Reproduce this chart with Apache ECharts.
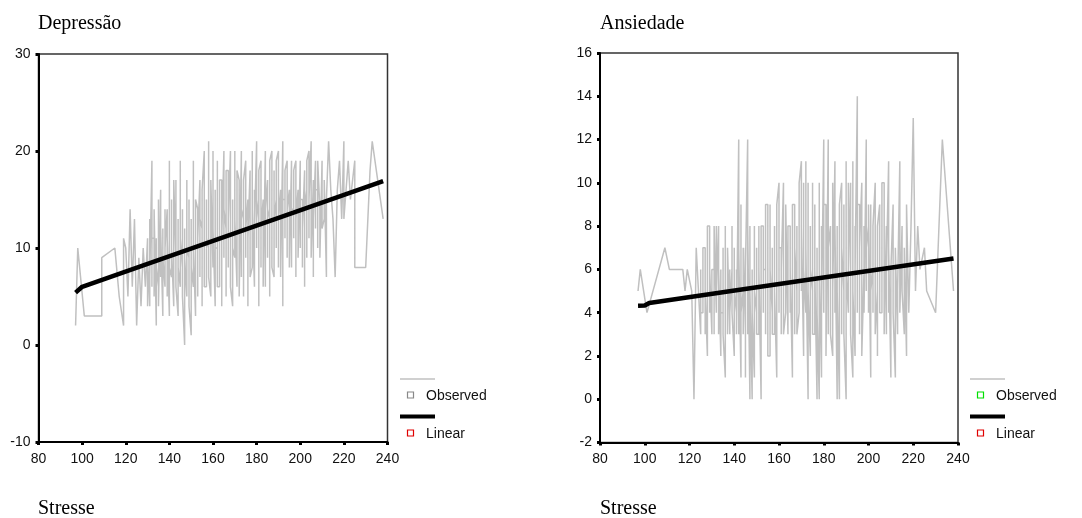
<!DOCTYPE html>
<html>
<head>
<meta charset="utf-8">
<script src="https://cdn.jsdelivr.net/npm/echarts@6/dist/echarts.min.js"></script>
<style>
html,body{margin:0;padding:0;background:#fff;}
#chart{width:1082px;height:518px;}
</style>
</head>
<body>
<div id="chart"></div>
<script>
// ---- Data ----
const xTicks = [80, 100, 120, 140, 160, 180, 200, 220, 240];
const depTicks = [-10, 0, 10, 20, 30];
const anxTicks = [-2, 0, 2, 4, 6, 8, 10, 12, 14, 16];

// Depressão vs Stresse, observed: [Stresse, Depressão], sorted by Stresse
const depObserved = [
[97,2],[98,10],[101,3],[109,3],[109,9],[115,10],[117,5],[119,2],[119,11],[120,10],[121,5],[122,14],[123,6],[124,13],[125,2],[126,9],[127,4],[128,10],[129,6],
[130,11],[130,4],[130,9],[131,4],[131,13],[131,7],[132,19],[132,6],[132,11],[133,11],[133,5],[133,14],[134,2],[134,11],[134,6],
[135,8],[135,15],[135,4],[136,16],[136,7],[136,12],[137,3],[137,12],[137,9],[138,6],[138,14],[138,10],[139,14],[139,5],[139,11],
[140,3],[140,19],[140,8],[141,7],[141,15],[141,10],[142,4],[142,12],[142,17],[143,9],[143,17],[143,6],[144,3],[144,13],[144,8],
[145,6],[145,19],[145,11],[146,8],[146,14],[146,5],[147,0],[147,12],[147,9],[148,5],[148,17],[148,10],[149,9],[149,15],[149,4],
[150,1],[150,13],[150,8],[151,6],[151,19],[151,10],[152,3],[152,10],[152,15],[153,14],[153,5],[153,11],[154,17],[154,7],[154,13],
[155,12],[155,4],[155,16],[156,20],[156,9],[156,6],[157,6],[157,15],[157,10],[158,11],[158,21],[158,7],[159,5],[159,14],[159,17],
[160,8],[160,20],[160,12],[161,4],[161,16],[161,10],[162,10],[162,19],[162,6],[163,6],[163,13],[163,17],[164,17],[164,4],[164,11],
[165,20],[165,9],[165,14],[166,12],[166,5],[166,18],[167,18],[167,8],[167,13],[168,20],[168,11],[168,6],[169,4],[169,15],[169,10],
[170,9],[170,20],[170,13],[171,6],[171,14],[171,18],[172,17],[172,10],[172,5],[173,20],[173,7],[173,14],[174,13],[174,5],[174,17],
[175,19],[175,9],[175,12],[176,15],[176,4],[176,11],[177,18],[177,11],[177,7],[178,8],[178,20],[178,14],[179,6],[179,16],[179,12],
[180,21],[180,10],[180,15],[181,13],[181,4],[181,18],[182,19],[182,8],[182,12],[183,15],[183,11],[183,6],[184,20],[184,6],[184,14],
[185,17],[185,9],[185,13],[186,14],[186,5],[186,19],[187,20],[187,12],[187,8],[188,7],[188,18],[188,13],[189,15],[189,10],[189,19],
[190,20],[190,8],[190,13],[191,16],[191,12],[191,7],[192,21],[192,4],[192,15],[193,15],[193,11],[193,18],[194,19],[194,9],[194,14],
[195,16],[195,13],[195,8],[196,19],[196,8],[196,14],[197,14],[197,11],[197,18],[198,19],[198,7],[198,13],[199,16],[199,12],[199,9],
[200,19],[200,10],[200,15],[201,15],[201,8],[201,12],[202,18],[202,6],[202,14],[203,16],[203,9],[203,19],[204,20],[204,11],[204,15],
[205,21],[205,14],[205,9],[206,17],[206,7],[206,13],[207,19],[207,12],[207,16],[208,16],[208,10],[208,19],[209,14],[209,9],
[210,19],[210,12],[211,13],[211,17],[212,7],[212,15],
[213,21],[214,16],[215,13],[216,7],[217,16],[218,19],[219,13],[220,21],[220,13],[221,16],[222,19],[223,15],[225,19],[225,8],[230,8],[232,18],[233,21],[238,13]
];
// Linear fit, Depressão
const depFit = [[97, 5.4], [100, 6.0], [238, 16.9]];

// Ansiedade vs Stresse, observed: [Stresse, Ansiedade], sorted by Stresse
const anxObserved = [
[97,5],[98,6],[101,4],[109,7],[111,6],[115,6],[117,6],[118,5],[119,6],[121,5],[122,0],[123,7],[124,5],
[125,3],[125,6],[125,4],[126,4],[126,7],[127,7],[127,3],[127,5],[128,2],[128,5],[128,8],[129,8],[129,4],[129,6],[130,3],[130,6],
[131,6],[131,3],[131,8],[132,4],[132,8],[132,5],[133,8],[133,3],[133,6],[134,2],[134,6],[134,4],[135,4],[135,7],[135,3],
[136,1],[136,8],[136,5],[137,5],[137,3],[137,7],[138,3],[138,6],[138,4],[139,6],[139,8],[139,4],[140,2],[140,7],[140,5],
[141,4],[141,6],[141,3],[142,12],[142,3],[142,7],[143,1],[143,9],[143,4],[144,5],[144,7],[144,3],[145,7],[145,1],[145,6],
[146,12],[146,3],[146,8],[147,0],[147,8],[147,5],[148,0],[148,6],[148,4],[149,1],[149,8],[149,5],[150,4],[150,7],[150,3],
[151,3],[151,8],[151,6],[152,0],[152,5],[152,8],[153,8],[153,4],[153,6],[154,6],[154,3],[154,9],[155,9],[155,5],[155,2],
[156,2],[156,9],[156,6],[157,4],[157,7],[157,3],[158,3],[158,8],[158,5],[159,1],[159,6],[159,9],[160,10],[160,4],[160,7],
[161,7],[161,3],[161,6],[162,10],[162,5],[162,3],[163,4],[163,7],[163,9],[164,3],[164,6],[164,8],[165,8],[165,4],[165,6],
[166,1],[166,6],[166,9],[167,9],[167,3],[167,7],[168,5],[168,8],[168,3],[169,4],[169,7],[169,10],[170,11],[170,5],[170,8],
[171,2],[171,10],[171,6],[172,4],[172,11],[172,7],[173,0],[173,10],[173,5],[174,2],[174,8],[174,6],[175,5],[175,10],[175,3],
[176,3],[176,9],[176,6],[177,0],[177,7],[177,4],[178,0],[178,10],[178,6],[179,1],[179,8],[179,4],[180,12],[180,4],[180,9],
[181,9],[181,5],[181,2],[182,12],[182,3],[182,7],[183,8],[183,6],[183,3],[184,2],[184,10],[184,5],[185,11],[185,4],[185,8],
[186,0],[186,8],[186,5],[187,0],[187,6],[187,9],[188,10],[188,3],[188,7],[189,5],[189,9],[189,3],[190,0],[190,11],[190,6],
[191,4],[191,8],[191,10],[192,6],[192,10],[192,3],[193,1],[193,11],[193,5],[194,2],[194,8],[194,6],[195,14],[195,4],[195,9],
[196,9],[196,3],[196,7],[197,10],[197,5],[197,2],[198,6],[198,8],[198,4],[199,12],[199,5],[199,8],[200,7],[200,4],[200,9],
[201,1],[201,9],[201,5],[202,6],[202,4],[202,8],[203,10],[203,7],[203,3],[204,5],[204,2],[204,8],[205,9],[205,6],[205,4],
[206,4],[206,7],[206,10],[207,10],[207,5],[207,3],[208,8],[208,3],[208,6],[209,11],[209,4],[209,7],
[210,1],[210,6],[211,9],[211,4],[212,1],[212,7],[213,3],[213,5],[214,11],[214,4],[215,8],[215,5],[216,3],[216,7],[217,2],[217,9],
[218,4],[219,8],[220,13],[221,5],[222,8],[223,6],[225,7],[226,5],[230,4],[233,12],[238,5]
];
// Linear fit, Ansiedade
const anxFit = [[97, 4.32], [100, 4.33], [102, 4.45], [238, 6.5]];

// ---- Build ----
const sans = 'Liberation Sans, Arial, sans-serif';
const serif = 'Liberation Serif, Times New Roman, serif';

function xAxisDef(gi) {
  return {
    type: 'value', gridIndex: gi, min: 80, max: 240, interval: 20,
    axisLine: { show: true, onZero: false, lineStyle: { color: '#000', width: 2 } },
    axisTick: { show: true, length: 3, lineStyle: { color: '#000', width: 3 } },
    axisLabel: { margin: 10, color: '#111', fontSize: 14, fontFamily: sans,
      formatter: v => xTicks.includes(v) ? String(v) : '' },
    splitLine: { show: false }
  };
}
function yAxisDef(gi, ticks, interval) {
  return {
    type: 'value', gridIndex: gi, min: ticks[0], max: ticks[ticks.length - 1], interval: interval,
    axisLine: { show: true, onZero: false, lineStyle: { color: '#000', width: 2 } },
    axisTick: { show: true, length: 3, lineStyle: { color: '#000', width: 3 } },
    axisLabel: { margin: 8, color: '#111', fontSize: 14, fontFamily: sans,
      formatter: v => ticks.includes(v) ? String(v) : '' },
    splitLine: { show: false }
  };
}

function legendGraphics(lineX, sqColor) {
  return [
    { type: 'line', shape: { x1: lineX, y1: 379, x2: lineX + 35, y2: 379 }, style: { stroke: '#c0c0c0', lineWidth: 1.5 } },
    { type: 'rect', shape: { x: lineX + 7.5, y: 392, width: 6, height: 6 }, style: { fill: '#fff', stroke: sqColor, lineWidth: 1.2 } },
    { type: 'text', left: lineX + 26, top: 389, style: { text: 'Observed', fontSize: 14, fontFamily: sans, fill: '#111' } },
    { type: 'line', shape: { x1: lineX, y1: 416.5, x2: lineX + 35, y2: 416.5 }, style: { stroke: '#000', lineWidth: 4 } },
    { type: 'rect', shape: { x: lineX + 7.5, y: 430, width: 6, height: 6 }, style: { fill: '#fff', stroke: '#e00000', lineWidth: 1.2 } },
    { type: 'text', left: lineX + 26, top: 427, style: { text: 'Linear', fontSize: 14, fontFamily: sans, fill: '#111' } }
  ];
}

const chart = echarts.init(document.getElementById('chart'), null, { renderer: 'canvas' });
const titleStyle = { fontFamily: serif, fontSize: 20, fontWeight: 'normal', color: '#000' };
chart.setOption({
  animation: false,
  backgroundColor: '#fff',
  title: [
    { text: 'Depressão', left: 38, top: 14, textStyle: titleStyle, padding: 0 },
    { text: 'Ansiedade', left: 600, top: 14, textStyle: titleStyle, padding: 0 },
    { text: 'Stresse', left: 38, top: 499, textStyle: titleStyle, padding: 0 },
    { text: 'Stresse', left: 600, top: 499, textStyle: titleStyle, padding: 0 }
  ],
  grid: [
    { left: 38.5, right: 694.5, top: 54, bottom: 76, show: true, borderColor: '#333', borderWidth: 1.5, backgroundColor: 'transparent' },
    { left: 600, right: 124, top: 53, bottom: 75.5, show: true, borderColor: '#333', borderWidth: 1.5, backgroundColor: 'transparent' }
  ],
  xAxis: [xAxisDef(0), xAxisDef(1)],
  yAxis: [yAxisDef(0, depTicks, 10), yAxisDef(1, anxTicks, 2)],
  series: [
    { name: 'Observed', type: 'line', xAxisIndex: 0, yAxisIndex: 0, data: depObserved,
      showSymbol: false, lineStyle: { color: '#c0c0c0', width: 1.5 }, z: 2 },
    { name: 'Linear', type: 'line', xAxisIndex: 0, yAxisIndex: 0, data: depFit,
      showSymbol: false, lineStyle: { color: '#000', width: 4.5 }, z: 3 },
    { name: 'Observed', type: 'line', xAxisIndex: 1, yAxisIndex: 1, data: anxObserved,
      showSymbol: false, lineStyle: { color: '#c0c0c0', width: 1.5 }, z: 2 },
    { name: 'Linear', type: 'line', xAxisIndex: 1, yAxisIndex: 1, data: anxFit,
      showSymbol: false, lineStyle: { color: '#000', width: 4.5 }, z: 3 }
  ],
  graphic: legendGraphics(400, '#888').concat(legendGraphics(970, '#00e000'))
});
</script>
</body>
</html>
